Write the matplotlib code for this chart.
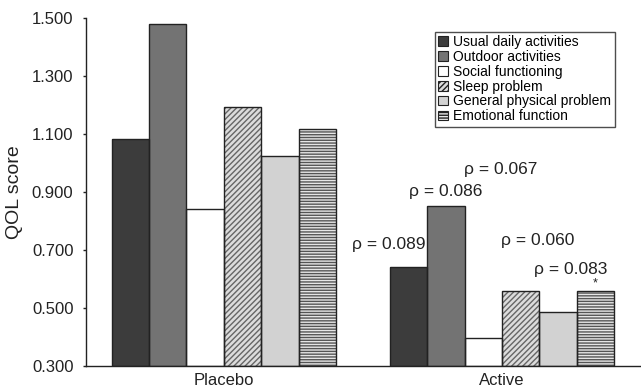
import matplotlib
matplotlib.use("Agg")
import matplotlib.pyplot as plt
import numpy as np

plt.rcParams['font.family'] = ['Liberation Sans', 'DejaVu Sans']

groups = ["Placebo", "Active"]
series = ["Usual daily activities", "Outdoor activities", "Social functioning",
          "Sleep problem", "General physical problem", "Emotional function"]
placebo = [1.082, 1.478, 0.840, 1.191, 1.022, 1.118]
active = [0.642, 0.853, 0.395, 0.560, 0.487, 0.560]
p_labels = ["ρ = 0.089", "ρ = 0.086", "ρ = 0.067", "ρ = 0.060", "ρ = 0.083", "*"]
yticks = [0.3, 0.5, 0.7, 0.9, 1.1, 1.3, 1.5]

faces = ["#3c3c3c", "#737373", "#ffffff", "#dcdcdc", "#d2d2d2", "#e6e6e6"]
hatches = [None, None, None, "//////", None, "------"]
hatch_edges = ["#222222", "#222222", "#222222", "#666666", "#222222", "#555555"]

fig = plt.figure(figsize=(6.41, 3.90), dpi=100)
ax = fig.add_axes([0.134, 0.0615, 0.866, 0.893])

width = 0.1343
x = np.arange(len(groups))
values = np.array([placebo, active])
offsets = (np.arange(len(series)) - 2.5) * width

handles = []
for i, name in enumerate(series):
    xs = x + offsets[i]
    ys = values[:, i]
    # filled bars with hatch (hatch drawn in the edge colour)
    b = ax.bar(xs, ys - 0.3, width, bottom=0.3, color=faces[i], hatch=hatches[i],
               edgecolor=hatch_edges[i], linewidth=0, label=name, zorder=2)
    # crisp black outline on top
    ax.bar(xs, ys - 0.3, width, bottom=0.3, facecolor="none",
           edgecolor="#222222", linewidth=1.0, zorder=3)
    handles.append(b)

# significance labels above the active-group bars
label_dx = [-0.07, 0.0, 0.063, 0.063, 0.045, 0.0]
label_dy = [0.075, 0.047, 0.581, 0.174, 0.144, 0.026]
for i, txt in enumerate(p_labels):
    xx = x[1] + offsets[i] + label_dx[i]
    yy = active[i] + label_dy[i]
    ax.text(xx, yy, txt, ha="center", va="center",
            fontsize=9 if txt == "*" else 12.5, color="#222222", zorder=4)

ax.set_ylim(0.3, 1.5)
ax.set_xlim(-0.496, 1.5)
ax.set_yticks(yticks)
ax.set_yticklabels([f"{v:.3f}" for v in yticks], fontsize=12, color="#222222")
ax.set_xticks(x)
ax.set_xticklabels(groups, fontsize=12, color="#222222")
ax.tick_params(axis="x", length=0, pad=5)
ax.tick_params(axis="y", length=2.5, width=1, direction="out", pad=6.5, color="#222222")
ax.set_ylabel("QOL score", fontsize=14, color="#222222", labelpad=6)

for s in ["top", "right"]:
    ax.spines[s].set_visible(False)
for s in ["left", "bottom"]:
    ax.spines[s].set_color("#222222")
    ax.spines[s].set_linewidth(1.0)

leg = ax.legend(handles=handles, loc="upper right", bbox_to_anchor=(0.953, 0.960),
                fontsize=10, frameon=True, fancybox=False, handlelength=0.7,
                handleheight=0.7, handletextpad=0.4, labelspacing=0.06,
                borderpad=0.25, borderaxespad=0)
leg.get_frame().set_edgecolor("#222222")
leg.get_frame().set_linewidth(1.0)
for h in leg.legend_handles:
    h.set_edgecolor("#222222")
    h.set_linewidth(0.8)

fig.savefig("out.png", dpi=100)
